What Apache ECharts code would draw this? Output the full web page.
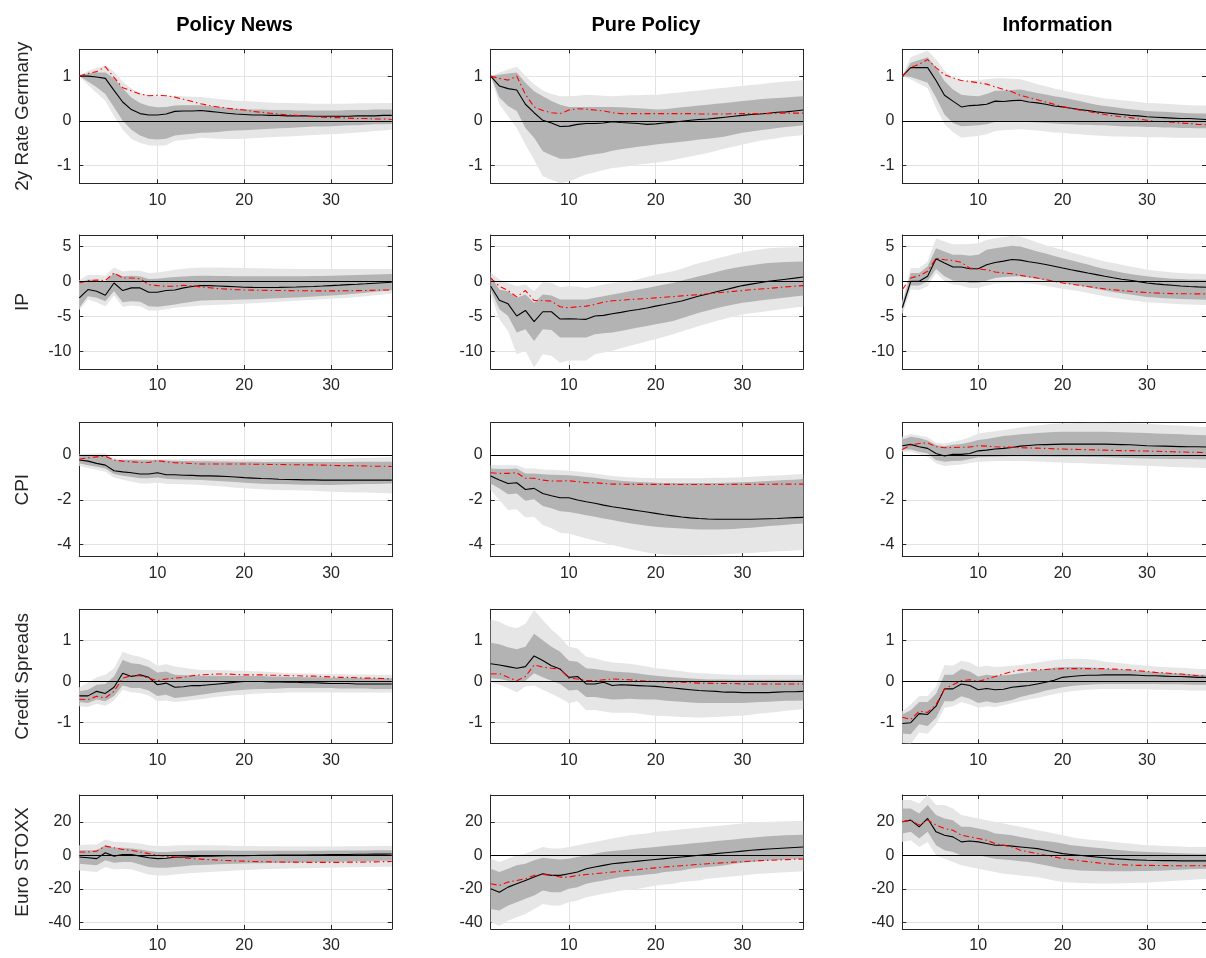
<!DOCTYPE html>
<html>
<head>
<meta charset="utf-8">
<title>Impulse responses</title>
<script src="https://cdn.jsdelivr.net/npm/echarts@6/dist/echarts.min.js"></script>
<style>
  html, body { margin: 0; padding: 0; background: #fff; }
  #chart { width: 1206px; height: 958px; }
</style>
</head>
<body>
<div id="chart"></div>
<script>
// horizons (months) and axis ticks
var horizons = [1,2,3,4,5,6,7,8,9,10, 11,12,13,14,15,16,17,18,19,20, 21,22,23,24,25,26,27,28,29,30, 31,32,33,34,35,36,37];
var xTickValues = [10, 20, 30];
var shockNames = ['Policy News', 'Pure Policy', 'Information'];
var variableNames = ['2y Rate Germany', 'IP', 'CPI', 'Credit Spreads', 'Euro STOXX'];
var yMin = [-1.4, -12.5, -4.55, -1.5, -44];
var yMax = [1.6, 6.6, 1.45, 1.75, 36];
var yTickValues = [[-1, 0, 1], [-10, -5, 0, 5], [-4, -2, 0], [-1, 0, 1], [-40, -20, 0, 20]];

// ---- 2y Rate Germany ----
var rate_news_med  = [1.00,1.00,0.98,0.95,0.68,0.42,0.25,0.16,0.13,0.13, 0.15,0.21,0.22,0.22,0.23,0.21,0.19,0.17,0.15,0.14, 0.13,0.13,0.12,0.12,0.11,0.11,0.11,0.10,0.10,0.10, 0.10,0.10,0.11,0.11,0.11,0.12,0.12];
var rate_news_red  = [1.00,1.06,1.10,1.21,0.97,0.74,0.67,0.60,0.56,0.57, 0.56,0.53,0.48,0.43,0.38,0.34,0.31,0.28,0.26,0.24, 0.21,0.19,0.17,0.15,0.13,0.12,0.10,0.09,0.08,0.07, 0.07,0.06,0.05,0.05,0.04,0.04,0.03];
var rate_news_hi90 = [1.00,1.12,1.18,1.23,1.10,0.88,0.72,0.62,0.57,0.55, 0.55,0.56,0.55,0.54,0.53,0.51,0.49,0.47,0.45,0.44, 0.43,0.42,0.41,0.40,0.40,0.39,0.39,0.38,0.38,0.38, 0.38,0.38,0.39,0.39,0.39,0.40,0.40];
var rate_news_hi68 = [1.00,1.06,1.08,1.08,0.95,0.72,0.52,0.40,0.33,0.30, 0.31,0.34,0.35,0.35,0.35,0.33,0.31,0.29,0.27,0.26, 0.25,0.25,0.24,0.24,0.24,0.23,0.23,0.23,0.23,0.23, 0.23,0.24,0.24,0.24,0.25,0.25,0.25];
var rate_news_lo68 = [1.00,0.88,0.75,0.60,0.30,0.00,-0.20,-0.33,-0.40,-0.42, -0.40,-0.33,-0.31,-0.29,-0.27,-0.26,-0.25,-0.23,-0.22,-0.21, -0.20,-0.19,-0.18,-0.17,-0.16,-0.15,-0.14,-0.13,-0.13,-0.12, -0.11,-0.10,-0.10,-0.09,-0.08,-0.08,-0.07];
var rate_news_lo90 = [1.00,0.80,0.62,0.45,0.10,-0.20,-0.40,-0.50,-0.55,-0.56, -0.55,-0.45,-0.43,-0.41,-0.38,-0.39,-0.40,-0.41,-0.41,-0.40, -0.39,-0.38,-0.37,-0.36,-0.35,-0.34,-0.33,-0.32,-0.31,-0.30, -0.29,-0.28,-0.26,-0.25,-0.23,-0.22,-0.20];

var rate_pure_med  = [1.00,0.78,0.72,0.69,0.37,0.18,0.01,-0.05,-0.13,-0.12, -0.08,-0.06,-0.06,-0.05,-0.02,-0.04,-0.05,-0.06,-0.08,-0.07, -0.05,-0.03,-0.01,0.01,0.03,0.04,0.06,0.08,0.10,0.12, 0.14,0.15,0.17,0.19,0.20,0.22,0.24];
var rate_pure_red  = [1.00,0.95,0.91,1.00,0.59,0.31,0.23,0.18,0.16,0.24, 0.27,0.26,0.24,0.22,0.18,0.16,0.16,0.16,0.16,0.16, 0.16,0.16,0.16,0.16,0.15,0.15,0.15,0.15,0.16,0.16, 0.16,0.16,0.16,0.17,0.17,0.17,0.17];
var rate_pure_hi90 = [1.00,1.08,1.15,1.21,1.00,0.82,0.68,0.60,0.55,0.55, 0.56,0.58,0.57,0.56,0.55,0.56,0.57,0.57,0.58,0.58, 0.60,0.62,0.64,0.66,0.68,0.70,0.72,0.74,0.76,0.78, 0.80,0.82,0.84,0.86,0.88,0.89,0.91];
var rate_pure_hi68 = [1.00,1.03,1.06,1.08,0.85,0.66,0.55,0.44,0.36,0.31, 0.31,0.31,0.31,0.31,0.31,0.30,0.29,0.28,0.27,0.25, 0.26,0.28,0.30,0.32,0.34,0.36,0.38,0.40,0.42,0.44, 0.46,0.48,0.50,0.51,0.52,0.54,0.55];
var rate_pure_lo68 = [1.00,0.52,0.33,0.22,-0.16,-0.38,-0.68,-0.77,-0.85,-0.85, -0.82,-0.78,-0.75,-0.72,-0.67,-0.64,-0.61,-0.58,-0.56,-0.53, -0.51,-0.49,-0.47,-0.45,-0.42,-0.40,-0.38,-0.35,-0.31,-0.27, -0.24,-0.21,-0.19,-0.16,-0.14,-0.12,-0.10];
var rate_pure_lo90 = [1.00,0.37,0.10,-0.16,-0.53,-0.87,-1.24,-1.32,-1.40,-1.36, -1.28,-1.20,-1.15,-1.10,-1.06,-1.04,-1.01,-0.98,-0.96,-0.94, -0.91,-0.88,-0.84,-0.80,-0.76,-0.72,-0.67,-0.62,-0.58,-0.53, -0.49,-0.45,-0.42,-0.39,-0.36,-0.34,-0.32];

var rate_info_med  = [1.00,1.19,1.19,1.19,0.90,0.57,0.44,0.31,0.34,0.35, 0.37,0.44,0.43,0.45,0.46,0.42,0.40,0.37,0.33,0.31, 0.28,0.25,0.23,0.20,0.18,0.16,0.14,0.12,0.11,0.09, 0.08,0.07,0.06,0.05,0.05,0.04,0.03];
var rate_info_red  = [1.00,1.19,1.27,1.37,1.19,1.03,0.96,0.90,0.88,0.85, 0.82,0.76,0.70,0.65,0.57,0.52,0.47,0.42,0.37,0.32, 0.28,0.24,0.21,0.17,0.14,0.11,0.09,0.07,0.04,0.01, -0.01,-0.02,-0.03,-0.05,-0.06,-0.08,-0.09];
var rate_info_hi90 = [1.00,1.42,1.50,1.57,1.38,1.12,0.97,0.89,0.90,0.91, 0.93,0.95,0.95,0.94,0.93,0.88,0.82,0.77,0.72,0.68, 0.64,0.60,0.57,0.53,0.50,0.48,0.46,0.44,0.42,0.40, 0.39,0.38,0.37,0.36,0.35,0.34,0.34];
var rate_info_hi68 = [1.00,1.30,1.36,1.42,1.19,0.89,0.70,0.58,0.56,0.55, 0.60,0.67,0.68,0.69,0.70,0.66,0.62,0.59,0.55,0.52, 0.48,0.44,0.40,0.36,0.33,0.31,0.28,0.26,0.24,0.22, 0.21,0.20,0.19,0.18,0.17,0.16,0.16];
var rate_info_lo68 = [1.00,0.98,0.92,0.85,0.52,0.14,-0.05,-0.12,-0.11,-0.10, -0.08,-0.03,-0.02,-0.02,-0.02,-0.03,-0.04,-0.05,-0.06,-0.07, -0.08,-0.09,-0.09,-0.10,-0.10,-0.11,-0.12,-0.13,-0.13,-0.14, -0.14,-0.15,-0.15,-0.16,-0.16,-0.17,-0.17];
var rate_info_lo90 = [1.00,0.93,0.83,0.73,0.29,-0.08,-0.25,-0.38,-0.36,-0.34, -0.30,-0.23,-0.21,-0.20,-0.19,-0.20,-0.22,-0.24,-0.26,-0.27, -0.29,-0.30,-0.32,-0.33,-0.34,-0.35,-0.35,-0.36,-0.36,-0.37, -0.37,-0.37,-0.38,-0.38,-0.38,-0.38,-0.38];

// ---- IP ----
var ip_news_med  = [-2.36,-1.18,-1.42,-1.98,-0.24,-1.32,-0.94,-0.94,-1.56,-1.56, -1.32,-1.23,-0.94,-0.75,-0.61,-0.61,-0.66,-0.72,-0.78,-0.85, -0.87,-0.88,-0.88,-0.87,-0.85,-0.82,-0.78,-0.74,-0.68,-0.61, -0.55,-0.48,-0.42,-0.35,-0.27,-0.20,-0.14];
var ip_news_red  = [-0.24,0.09,0.19,0.10,1.18,0.47,0.47,0.38,-0.47,-0.61, -0.70,-0.70,-0.57,-0.66,-0.80,-0.92,-1.04,-1.12,-1.18,-1.23, -1.26,-1.28,-1.30,-1.31,-1.32,-1.34,-1.35,-1.37,-1.37,-1.37, -1.36,-1.35,-1.33,-1.31,-1.28,-1.25,-1.23];
var ip_news_hi90 = [0.14,0.94,0.90,0.80,1.98,1.40,1.55,1.50,1.18,1.27, 1.45,1.65,1.80,1.90,1.98,1.98,1.96,1.94,1.92,1.89, 1.87,1.85,1.83,1.80,1.78,1.76,1.75,1.75,1.75,1.75, 1.75,1.75,1.75,1.75,1.75,1.75,1.75];
var ip_news_hi68 = [-0.24,0.24,0.15,-0.10,1.18,0.71,0.80,0.71,0.33,0.38, 0.50,0.61,0.70,0.76,0.80,0.79,0.77,0.75,0.73,0.71, 0.71,0.71,0.71,0.71,0.71,0.72,0.73,0.74,0.76,0.78, 0.82,0.86,0.90,0.94,0.98,1.01,1.04];
var ip_news_lo68 = [-3.77,-2.12,-2.36,-2.83,-1.42,-2.97,-2.83,-2.92,-3.54,-3.63, -3.50,-3.30,-3.10,-2.90,-2.74,-2.70,-2.68,-2.66,-2.63,-2.60, -2.56,-2.51,-2.46,-2.41,-2.36,-2.30,-2.24,-2.18,-2.11,-2.03, -1.95,-1.85,-1.75,-1.63,-1.50,-1.38,-1.27];
var ip_news_lo90 = [-4.10,-2.60,-3.00,-3.54,-2.03,-3.63,-3.45,-3.55,-4.15,-4.15, -4.00,-3.77,-3.65,-3.55,-3.44,-3.40,-3.35,-3.30,-3.25,-3.20, -3.13,-3.06,-2.98,-2.90,-2.83,-2.76,-2.69,-2.62,-2.56,-2.50, -2.42,-2.33,-2.23,-2.12,-2.00,-1.88,-1.75];

var ip_pure_med  = [-0.71,-2.69,-3.21,-4.95,-4.15,-5.75,-4.34,-4.34,-5.38,-5.33, -5.38,-5.42,-4.95,-4.86,-4.62,-4.43,-4.20,-4.01,-3.80,-3.54, -3.30,-3.05,-2.80,-2.45,-2.10,-1.80,-1.50,-1.20,-0.90,-0.61, -0.40,-0.20,0.00,0.15,0.30,0.45,0.61];
var ip_pure_red  = [0.47,-0.71,-1.32,-2.22,-1.32,-2.74,-2.74,-2.83,-3.63,-3.77, -3.63,-3.54,-3.30,-2.97,-2.78,-2.70,-2.60,-2.52,-2.45,-2.36, -2.27,-2.18,-2.08,-1.98,-1.89,-1.78,-1.66,-1.55,-1.43,-1.32, -1.20,-1.10,-1.02,-0.90,-0.80,-0.70,-0.61];
var ip_pure_hi90 = [1.27,0.24,-0.24,-0.70,-0.47,-1.42,-0.14,-0.24,-0.80,-0.70, -0.75,-0.94,-0.70,-0.47,-0.24,-0.10,0.00,0.30,0.60,0.94, 1.20,1.42,1.80,2.20,2.60,2.90,3.25,3.54,3.85,4.15, 4.35,4.55,4.70,4.78,4.82,4.85,4.86];
var ip_pure_hi68 = [0.70,-1.18,-1.42,-2.36,-1.89,-3.07,-1.89,-2.03,-2.60,-2.60, -2.60,-2.60,-2.36,-2.12,-1.89,-1.65,-1.42,-1.18,-0.94,-0.71, -0.47,-0.24,0.10,0.40,0.71,1.00,1.33,1.65,1.90,2.12, 2.30,2.45,2.60,2.68,2.75,2.80,2.83];
var ip_pure_lo68 = [-1.18,-4.00,-4.95,-7.30,-6.84,-8.50,-6.84,-6.95,-8.02,-8.02, -8.02,-8.02,-7.55,-7.42,-7.30,-7.07,-6.84,-6.60,-6.37,-6.13, -5.90,-5.66,-5.25,-4.86,-4.48,-4.15,-3.85,-3.54,-3.30,-3.07, -2.90,-2.74,-2.60,-2.45,-2.30,-2.15,-2.03];
var ip_pure_lo90 = [-1.89,-5.42,-7.07,-10.40,-9.90,-12.30,-10.40,-10.60,-11.60,-11.30, -11.30,-11.30,-10.40,-10.15,-9.90,-9.55,-9.20,-8.90,-8.55,-8.25, -7.90,-7.55,-7.15,-6.75,-6.37,-6.00,-5.65,-5.33,-5.00,-4.72, -4.55,-4.40,-4.25,-4.05,-3.90,-3.75,-3.63];

var ip_info_med  = [-3.77,0.00,0.00,0.71,3.20,2.60,2.03,2.03,1.80,1.80, 2.36,2.69,2.88,3.11,3.02,2.78,2.60,2.40,2.15,1.89, 1.65,1.42,1.18,0.95,0.71,0.50,0.30,0.14,-0.05,-0.24, -0.37,-0.48,-0.57,-0.66,-0.74,-0.80,-0.84];
var ip_info_red  = [-1.18,0.47,0.80,1.42,3.30,3.07,2.97,2.69,1.89,1.75, 1.65,1.32,1.18,1.08,0.85,0.66,0.47,0.23,0.00,-0.24, -0.40,-0.57,-0.75,-0.92,-1.08,-1.20,-1.32,-1.42,-1.52,-1.60, -1.66,-1.71,-1.75,-1.77,-1.78,-1.79,-1.80];
var ip_info_hi90 = [-2.83,1.90,1.90,2.83,6.13,5.66,5.28,5.28,5.33,5.42, 5.90,6.13,6.30,6.46,6.37,5.95,5.52,5.15,4.80,4.48, 4.12,3.77,3.45,3.14,2.83,2.60,2.35,2.12,1.88,1.65, 1.52,1.38,1.27,1.20,1.13,1.08,1.05];
var ip_info_hi68 = [-3.30,1.18,1.18,2.12,4.72,4.25,3.77,3.77,3.63,3.77, 4.48,4.72,4.90,5.05,4.95,4.60,4.25,3.95,3.62,3.30, 3.00,2.69,2.38,2.05,1.75,1.50,1.25,1.04,0.87,0.71, 0.58,0.47,0.38,0.32,0.27,0.24,0.22];
var ip_info_lo68 = [-4.25,-0.61,-0.61,0.00,1.75,0.71,0.10,0.00,-0.24,-0.24, 0.12,0.47,0.60,0.68,0.71,0.55,0.35,0.12,-0.06,-0.24, -0.42,-0.61,-0.85,-1.10,-1.32,-1.52,-1.70,-1.89,-2.05,-2.22, -2.32,-2.40,-2.45,-2.52,-2.57,-2.60,-2.62];
var ip_info_lo90 = [-4.72,-1.18,-1.25,-0.71,1.18,0.00,-0.47,-0.61,-0.94,-0.94, -0.60,-0.33,-0.28,-0.25,-0.24,-0.35,-0.47,-0.65,-0.85,-1.08, -1.25,-1.42,-1.65,-1.90,-2.12,-2.32,-2.52,-2.69,-2.85,-2.97, -3.05,-3.14,-3.20,-3.26,-3.31,-3.35,-3.38];

// ---- CPI ----
var cpi_news_med  = [-0.22,-0.27,-0.37,-0.45,-0.70,-0.75,-0.79,-0.85,-0.85,-0.79, -0.88,-0.88,-0.90,-0.91,-0.93,-0.93,-0.94,-0.96,-0.98,-1.01, -1.03,-1.05,-1.06,-1.08,-1.09,-1.10,-1.11,-1.11,-1.12,-1.12, -1.12,-1.12,-1.12,-1.12,-1.12,-1.12,-1.12];
var cpi_news_red  = [-0.19,-0.12,-0.08,-0.05,-0.22,-0.27,-0.30,-0.33,-0.33,-0.25, -0.30,-0.34,-0.36,-0.38,-0.40,-0.40,-0.40,-0.40,-0.40,-0.40, -0.41,-0.41,-0.42,-0.42,-0.43,-0.43,-0.44,-0.44,-0.45,-0.46, -0.47,-0.47,-0.48,-0.49,-0.50,-0.50,-0.51];
var cpi_news_hi90 = [0.04,0.06,0.07,0.07,-0.15,-0.16,-0.17,-0.18,-0.19,-0.19, -0.19,-0.19,-0.19,-0.19,-0.19,-0.19,-0.19,-0.19,-0.19,-0.19, -0.19,-0.19,-0.19,-0.18,-0.18,-0.18,-0.18,-0.17,-0.17,-0.17, -0.16,-0.15,-0.14,-0.13,-0.12,-0.11,-0.10];
var cpi_news_hi68 = [-0.05,-0.03,-0.02,0.00,-0.22,-0.22,-0.22,-0.23,-0.23,-0.22, -0.24,-0.25,-0.26,-0.27,-0.28,-0.28,-0.29,-0.29,-0.30,-0.30, -0.30,-0.31,-0.31,-0.31,-0.31,-0.31,-0.31,-0.31,-0.31,-0.31, -0.31,-0.31,-0.30,-0.30,-0.30,-0.30,-0.30];
var cpi_news_lo68 = [-0.37,-0.45,-0.52,-0.60,-0.85,-0.92,-0.98,-1.04,-1.04,-1.00, -1.06,-1.08,-1.09,-1.10,-1.12,-1.14,-1.16,-1.18,-1.21,-1.24, -1.26,-1.28,-1.29,-1.30,-1.31,-1.32,-1.33,-1.33,-1.34,-1.34, -1.33,-1.32,-1.31,-1.30,-1.29,-1.28,-1.27];
var cpi_news_lo90 = [-0.49,-0.58,-0.66,-0.75,-1.00,-1.10,-1.18,-1.27,-1.27,-1.24, -1.28,-1.30,-1.31,-1.32,-1.34,-1.36,-1.39,-1.42,-1.46,-1.49, -1.51,-1.53,-1.55,-1.56,-1.57,-1.58,-1.59,-1.60,-1.62,-1.64, -1.65,-1.66,-1.67,-1.68,-1.69,-1.70,-1.72];

var cpi_pure_med  = [-0.94,-1.12,-1.27,-1.24,-1.54,-1.49,-1.72,-1.82,-1.91,-1.91, -2.01,-2.09,-2.16,-2.24,-2.31,-2.37,-2.43,-2.49,-2.55,-2.61, -2.67,-2.72,-2.77,-2.81,-2.84,-2.86,-2.87,-2.87,-2.87,-2.87, -2.87,-2.86,-2.85,-2.84,-2.82,-2.80,-2.79];
var cpi_pure_red  = [-0.79,-0.82,-0.82,-0.79,-1.04,-1.04,-1.12,-1.16,-1.16,-1.15, -1.19,-1.24,-1.24,-1.27,-1.30,-1.30,-1.31,-1.31,-1.31,-1.31, -1.31,-1.31,-1.32,-1.32,-1.32,-1.32,-1.32,-1.32,-1.31,-1.31, -1.31,-1.31,-1.31,-1.30,-1.30,-1.30,-1.30];
var cpi_pure_hi90 = [-0.45,-0.45,-0.45,-0.45,-0.60,-0.60,-0.64,-0.66,-0.68,-0.70, -0.74,-0.78,-0.82,-0.88,-0.94,-0.97,-0.99,-1.01,-1.03,-1.04, -1.04,-1.04,-1.04,-1.04,-1.04,-1.03,-1.02,-1.01,-1.00,-0.99, -0.97,-0.95,-0.93,-0.91,-0.89,-0.87,-0.85];
var cpi_pure_hi68 = [-0.60,-0.62,-0.62,-0.60,-0.82,-0.82,-0.86,-0.88,-0.89,-0.90, -0.94,-0.98,-1.02,-1.07,-1.12,-1.15,-1.18,-1.20,-1.22,-1.24, -1.25,-1.25,-1.25,-1.25,-1.25,-1.25,-1.25,-1.24,-1.23,-1.22, -1.20,-1.18,-1.16,-1.14,-1.12,-1.10,-1.07];
var cpi_pure_lo68 = [-1.27,-1.50,-1.75,-1.72,-2.04,-1.98,-2.28,-2.38,-2.51,-2.55, -2.62,-2.69,-2.76,-2.84,-2.91,-2.98,-3.05,-3.11,-3.16,-3.21, -3.24,-3.27,-3.29,-3.31,-3.33,-3.33,-3.33,-3.32,-3.31,-3.28, -3.25,-3.22,-3.18,-3.15,-3.12,-3.09,-3.06];
var cpi_pure_lo90 = [-1.57,-2.01,-2.46,-2.43,-2.79,-2.76,-3.13,-3.28,-3.48,-3.51, -3.62,-3.73,-3.82,-3.93,-4.03,-4.12,-4.20,-4.28,-4.36,-4.43, -4.45,-4.46,-4.47,-4.48,-4.48,-4.47,-4.46,-4.44,-4.42,-4.40, -4.38,-4.35,-4.33,-4.31,-4.29,-4.27,-4.25];

var cpi_info_med  = [0.42,0.48,0.37,0.30,0.07,-0.04,0.03,0.03,0.07,0.19, 0.22,0.27,0.30,0.34,0.40,0.43,0.46,0.47,0.48,0.49, 0.49,0.49,0.49,0.49,0.49,0.48,0.47,0.46,0.44,0.42, 0.41,0.40,0.39,0.38,0.37,0.37,0.36];
var cpi_info_red  = [0.25,0.45,0.52,0.55,0.37,0.33,0.34,0.35,0.36,0.42, 0.40,0.37,0.36,0.35,0.33,0.32,0.31,0.30,0.28,0.27, 0.26,0.25,0.24,0.23,0.22,0.21,0.20,0.20,0.19,0.18, 0.17,0.16,0.15,0.14,0.13,0.12,0.11];
var cpi_info_hi90 = [0.82,0.94,0.88,0.80,0.55,0.52,0.60,0.67,0.80,0.97, 1.02,1.07,1.12,1.18,1.24,1.29,1.33,1.37,1.40,1.42, 1.43,1.44,1.45,1.45,1.45,1.44,1.43,1.42,1.41,1.40, 1.38,1.36,1.34,1.32,1.30,1.27,1.26];
var cpi_info_hi68 = [0.70,0.82,0.76,0.65,0.45,0.40,0.46,0.50,0.58,0.67, 0.72,0.79,0.85,0.89,0.93,0.96,0.99,1.01,1.03,1.04, 1.04,1.04,1.04,1.04,1.04,1.03,1.02,1.01,1.00,0.99, 0.97,0.96,0.94,0.93,0.91,0.90,0.89];
var cpi_info_lo68 = [0.25,0.25,0.15,0.07,-0.22,-0.30,-0.27,-0.25,-0.18,-0.10, -0.09,-0.07,-0.06,-0.05,-0.05,-0.05,-0.06,-0.06,-0.07,-0.07, -0.08,-0.08,-0.09,-0.09,-0.10,-0.11,-0.12,-0.13,-0.14,-0.15, -0.16,-0.16,-0.17,-0.18,-0.18,-0.19,-0.19];
var cpi_info_lo90 = [0.15,0.15,0.04,-0.07,-0.37,-0.49,-0.45,-0.42,-0.36,-0.30, -0.29,-0.27,-0.27,-0.27,-0.27,-0.28,-0.29,-0.30,-0.32,-0.33, -0.35,-0.36,-0.38,-0.39,-0.40,-0.42,-0.43,-0.45,-0.47,-0.48, -0.50,-0.51,-0.53,-0.54,-0.56,-0.57,-0.58];

// ---- Credit Spreads ----
var cs_news_med  = [-0.35,-0.35,-0.24,-0.29,-0.14,0.20,0.12,0.16,0.10,-0.08, -0.04,-0.14,-0.13,-0.10,-0.10,-0.08,-0.06,-0.04,-0.02,0.00, 0.00,0.00,-0.01,-0.01,-0.02,-0.02,-0.03,-0.03,-0.04,-0.05, -0.05,-0.05,-0.06,-0.06,-0.06,-0.06,-0.06];
var cs_news_red  = [-0.43,-0.44,-0.36,-0.40,-0.24,0.08,0.14,0.14,0.08,0.02, 0.06,0.08,0.10,0.14,0.16,0.17,0.18,0.18,0.17,0.16, 0.16,0.16,0.15,0.15,0.14,0.14,0.13,0.13,0.12,0.11, 0.10,0.10,0.09,0.08,0.08,0.07,0.06];
var cs_news_hi90 = [-0.14,-0.03,0.10,0.16,0.32,0.72,0.64,0.60,0.52,0.38, 0.42,0.36,0.33,0.30,0.28,0.28,0.27,0.27,0.26,0.26, 0.25,0.24,0.23,0.22,0.20,0.20,0.19,0.19,0.18,0.18, 0.18,0.17,0.17,0.17,0.16,0.16,0.16];
var cs_news_hi68 = [-0.24,-0.20,-0.08,-0.06,0.12,0.52,0.44,0.42,0.35,0.22, 0.24,0.16,0.15,0.15,0.14,0.14,0.14,0.14,0.14,0.14, 0.13,0.13,0.12,0.12,0.11,0.11,0.10,0.10,0.10,0.09, 0.09,0.09,0.09,0.08,0.08,0.08,0.08];
var cs_news_lo68 = [-0.50,-0.52,-0.44,-0.48,-0.35,-0.10,-0.16,-0.16,-0.22,-0.35, -0.32,-0.40,-0.38,-0.35,-0.32,-0.29,-0.26,-0.24,-0.22,-0.20, -0.19,-0.18,-0.18,-0.17,-0.16,-0.16,-0.16,-0.16,-0.16,-0.16, -0.17,-0.17,-0.17,-0.17,-0.18,-0.18,-0.18];
var cs_news_lo90 = [-0.60,-0.62,-0.54,-0.59,-0.46,-0.20,-0.26,-0.28,-0.34,-0.48, -0.46,-0.50,-0.48,-0.45,-0.43,-0.40,-0.37,-0.35,-0.33,-0.32, -0.30,-0.29,-0.28,-0.28,-0.27,-0.27,-0.27,-0.27,-0.27,-0.27, -0.27,-0.27,-0.27,-0.27,-0.27,-0.27,-0.27];

var cs_pure_med  = [0.43,0.40,0.36,0.32,0.36,0.62,0.51,0.38,0.30,0.10, 0.12,-0.06,-0.06,-0.02,-0.10,-0.08,-0.09,-0.10,-0.11,-0.12, -0.14,-0.16,-0.18,-0.20,-0.22,-0.23,-0.24,-0.26,-0.26,-0.27, -0.27,-0.27,-0.27,-0.26,-0.25,-0.25,-0.24];
var cs_pure_red  = [0.18,0.19,0.10,0.02,0.12,0.40,0.35,0.32,0.30,0.08, 0.06,0.02,0.02,0.04,0.06,0.05,0.04,0.02,0.01,0.00, -0.01,-0.02,-0.02,-0.03,-0.04,-0.04,-0.05,-0.05,-0.05,-0.06, -0.06,-0.06,-0.06,-0.06,-0.06,-0.06,-0.06];
var cs_pure_hi90 = [1.50,1.45,1.34,1.29,1.40,1.73,1.49,1.26,1.08,0.84, 0.80,0.60,0.56,0.50,0.46,0.45,0.43,0.40,0.36,0.32, 0.30,0.27,0.25,0.22,0.20,0.19,0.18,0.17,0.16,0.16, 0.16,0.16,0.16,0.16,0.16,0.16,0.16];
var cs_pure_hi68 = [0.94,0.90,0.83,0.78,0.84,1.16,1.00,0.84,0.72,0.50, 0.48,0.32,0.30,0.27,0.24,0.23,0.22,0.19,0.16,0.14, 0.12,0.10,0.09,0.07,0.06,0.05,0.05,0.05,0.04,0.04, 0.04,0.04,0.04,0.04,0.04,0.04,0.04];
var cs_pure_lo68 = [0.08,0.06,0.02,-0.02,0.02,0.20,0.10,0.02,-0.06,-0.22, -0.20,-0.38,-0.38,-0.41,-0.44,-0.43,-0.42,-0.43,-0.44,-0.44, -0.46,-0.48,-0.49,-0.51,-0.52,-0.52,-0.52,-0.52,-0.52,-0.52, -0.51,-0.50,-0.49,-0.48,-0.47,-0.47,-0.46];
var cs_pure_lo90 = [-0.04,-0.08,-0.16,-0.27,-0.12,-0.10,-0.20,-0.30,-0.40,-0.52, -0.48,-0.70,-0.69,-0.73,-0.76,-0.76,-0.76,-0.78,-0.81,-0.83, -0.84,-0.85,-0.86,-0.87,-0.88,-0.87,-0.86,-0.85,-0.84,-0.83, -0.81,-0.78,-0.76,-0.74,-0.71,-0.69,-0.67];

var cs_info_med  = [-1.02,-1.00,-0.78,-0.80,-0.60,-0.18,-0.18,-0.06,-0.10,-0.20, -0.17,-0.20,-0.19,-0.14,-0.12,-0.10,-0.06,-0.02,0.03,0.10, 0.12,0.14,0.15,0.15,0.16,0.16,0.16,0.16,0.15,0.14, 0.14,0.13,0.12,0.12,0.11,0.10,0.10];
var cs_info_red  = [-0.87,-0.92,-0.72,-0.75,-0.56,-0.18,-0.08,0.02,0.04,0.00, 0.06,0.12,0.18,0.24,0.28,0.28,0.28,0.29,0.30,0.31, 0.31,0.31,0.31,0.31,0.31,0.30,0.29,0.28,0.26,0.24, 0.22,0.21,0.19,0.18,0.16,0.14,0.13];
var cs_info_hi90 = [-0.72,-0.56,-0.35,-0.35,-0.12,0.40,0.38,0.50,0.46,0.35, 0.38,0.35,0.36,0.38,0.40,0.43,0.46,0.49,0.52,0.54, 0.55,0.55,0.54,0.52,0.48,0.46,0.44,0.42,0.40,0.38, 0.36,0.35,0.34,0.33,0.32,0.30,0.30];
var cs_info_hi68 = [-0.80,-0.70,-0.50,-0.50,-0.30,0.16,0.16,0.30,0.24,0.12, 0.16,0.14,0.15,0.17,0.20,0.23,0.27,0.30,0.33,0.35, 0.35,0.35,0.34,0.33,0.31,0.30,0.29,0.28,0.26,0.24, 0.23,0.21,0.20,0.19,0.18,0.16,0.16];
var cs_info_lo68 = [-1.26,-1.28,-1.04,-1.08,-0.88,-0.48,-0.48,-0.36,-0.42,-0.52, -0.48,-0.52,-0.49,-0.45,-0.38,-0.33,-0.28,-0.22,-0.18,-0.14, -0.11,-0.09,-0.08,-0.07,-0.06,-0.06,-0.06,-0.06,-0.06,-0.06, -0.06,-0.07,-0.07,-0.07,-0.08,-0.08,-0.08];
var cs_info_lo90 = [-1.50,-1.52,-1.24,-1.27,-1.04,-0.64,-0.60,-0.50,-0.56,-0.64, -0.60,-0.62,-0.58,-0.53,-0.48,-0.44,-0.40,-0.35,-0.31,-0.27, -0.24,-0.22,-0.20,-0.19,-0.18,-0.18,-0.18,-0.19,-0.19,-0.19, -0.20,-0.20,-0.21,-0.21,-0.22,-0.22,-0.22];

// ---- Euro STOXX ----
var stoxx_news_med  = [-1.0,-1.5,-2.0,1.5,-0.5,0.5,0.5,-0.5,-1.5,-2.0, -1.8,-1.2,-1.0,-0.8,-0.6,-0.5,-0.4,-0.3,-0.2,-0.2, -0.1,0.0,0.0,0.1,0.1,0.2,0.2,0.3,0.3,0.4, 0.5,0.5,0.6,0.6,0.7,0.7,0.8];
var stoxx_news_red  = [2.0,2.0,2.5,5.5,4.5,3.5,3.0,2.0,1.0,0.0, -0.5,-1.0,-1.5,-2.0,-2.3,-2.6,-2.9,-3.1,-3.3,-3.5, -3.7,-3.8,-3.9,-4.0,-4.1,-4.1,-4.2,-4.2,-4.2,-4.2, -4.2,-4.1,-4.1,-4.0,-3.9,-3.8,-3.7];
var stoxx_news_hi90 = [6.0,6.5,6.5,9.5,8.0,8.0,7.5,7.0,6.0,5.5, 5.5,5.8,6.0,6.0,6.0,6.0,5.8,5.8,5.6,5.5, 5.5,5.4,5.4,5.4,5.3,5.3,5.3,5.3,5.3,5.3, 5.3,5.4,5.4,5.4,5.5,5.5,5.5];
var stoxx_news_hi68 = [3.0,3.0,3.0,6.0,4.5,4.5,4.0,3.5,2.5,2.0, 2.0,2.3,2.5,2.7,2.8,2.8,2.8,2.8,2.7,2.7, 2.7,2.7,2.7,2.7,2.7,2.7,2.7,2.7,2.7,2.8, 2.8,2.8,2.9,2.9,3.0,3.0,3.0];
var stoxx_news_lo68 = [-5.0,-5.5,-6.0,-3.0,-4.5,-4.0,-4.0,-5.5,-7.0,-7.5, -7.5,-7.0,-6.5,-6.0,-5.8,-5.6,-5.4,-5.2,-5.0,-4.9, -4.8,-4.7,-4.6,-4.5,-4.4,-4.3,-4.2,-4.1,-4.0,-3.9, -3.8,-3.7,-3.6,-3.5,-3.4,-3.3,-3.2];
var stoxx_news_lo90 = [-9.0,-9.5,-10.0,-7.0,-8.5,-8.0,-8.5,-10.0,-11.5,-12.0, -12.0,-11.5,-11.0,-10.5,-10.2,-9.9,-9.6,-9.3,-9.0,-8.8, -8.6,-8.4,-8.2,-8.0,-7.9,-7.8,-7.7,-7.6,-7.5,-7.4, -7.3,-7.2,-7.1,-7.0,-7.0,-6.9,-6.8];

var stoxx_pure_med  = [-20.0,-22.0,-19.0,-17.0,-15.0,-13.0,-11.0,-12.0,-12.0,-11.0, -10.0,-8.0,-7.0,-6.0,-5.0,-4.5,-4.0,-3.5,-3.0,-2.5, -2.0,-1.5,-1.0,-0.5,0.0,0.5,1.0,1.5,2.0,2.5, 3.0,3.4,3.8,4.1,4.4,4.7,5.0];
var stoxx_pure_red  = [-17.0,-18.0,-16.0,-15.0,-14.0,-12.0,-11.5,-12.0,-13.0,-13.0, -12.0,-11.5,-11.0,-10.5,-10.0,-9.5,-9.0,-8.5,-8.0,-7.5, -7.0,-6.6,-6.2,-5.8,-5.4,-5.0,-4.7,-4.4,-4.1,-3.8, -3.5,-3.2,-3.0,-2.8,-2.6,-2.4,-2.2];
var stoxx_pure_hi90 = [-2.0,-4.0,-2.0,0.0,1.0,3.0,5.0,4.0,4.0,5.0, 6.0,7.0,8.0,9.0,10.0,11.0,12.0,12.5,13.0,14.0, 14.5,15.0,15.5,16.0,16.5,17.0,17.5,18.0,18.5,19.0, 19.5,19.8,20.0,20.2,20.4,20.5,20.6];
var stoxx_pure_hi68 = [-8.0,-10.0,-8.0,-6.0,-5.0,-3.0,-1.5,-2.0,-2.5,-2.0, -1.0,0.0,1.0,2.0,2.5,3.0,3.5,4.0,4.5,5.0, 5.5,6.0,6.5,7.0,7.5,8.0,8.5,9.0,9.5,10.0, 10.5,11.0,11.3,11.6,11.9,12.1,12.3];
var stoxx_pure_lo68 = [-32.0,-33.0,-30.0,-28.0,-26.0,-24.0,-21.0,-22.0,-22.0,-20.0, -19.0,-17.0,-16.0,-15.0,-14.0,-13.0,-12.5,-12.0,-11.5,-11.0, -10.0,-9.5,-9.0,-8.0,-7.5,-7.0,-6.5,-6.0,-5.0,-4.5, -4.0,-3.5,-3.0,-2.8,-2.5,-2.2,-2.0];
var stoxx_pure_lo90 = [-40.0,-42.0,-39.0,-37.0,-35.0,-32.0,-29.0,-30.0,-30.0,-28.0, -27.0,-25.0,-24.0,-23.0,-22.0,-21.0,-20.5,-20.0,-19.0,-18.0, -17.5,-17.0,-16.0,-15.5,-15.0,-14.0,-13.5,-13.0,-12.5,-12.0, -11.5,-11.0,-10.7,-10.4,-10.1,-9.8,-9.5];

var stoxx_info_med  = [20.0,21.0,17.0,22.0,14.0,12.0,11.0,8.0,8.5,8.0, 7.0,6.0,6.0,5.5,5.0,4.5,4.0,3.0,2.0,1.0, 0.5,0.0,-0.5,-1.0,-1.5,-2.0,-2.3,-2.6,-2.8,-3.0, -3.1,-3.2,-3.2,-3.3,-3.3,-3.3,-3.3];
var stoxx_info_red  = [20.0,21.0,18.0,21.0,18.0,16.0,15.0,12.0,11.0,10.0, 9.0,7.0,6.0,5.0,3.0,2.0,1.0,0.0,-1.0,-2.0, -2.6,-3.2,-3.8,-4.4,-5.0,-5.3,-5.6,-5.8,-6.0,-6.0, -6.1,-6.1,-6.2,-6.2,-6.2,-6.2,-6.2];
var stoxx_info_hi90 = [33.0,33.0,31.0,36.0,30.0,30.0,28.0,24.0,23.0,22.0, 21.0,20.0,19.0,18.0,17.0,16.0,15.0,14.0,13.0,12.0, 11.0,10.0,9.5,9.0,8.5,8.0,7.5,7.0,6.5,6.0, 5.8,5.6,5.4,5.2,5.0,5.0,5.0];
var stoxx_info_hi68 = [28.0,28.0,25.0,30.0,24.0,22.0,21.0,17.0,17.0,16.0, 15.0,13.0,12.5,12.0,11.0,10.0,9.0,8.5,8.0,7.0, 6.0,5.5,5.0,4.5,4.0,3.5,3.0,2.5,2.2,2.0, 1.8,1.6,1.4,1.2,1.1,1.0,1.0];
var stoxx_info_lo68 = [13.0,14.0,10.0,14.0,6.0,3.0,2.0,0.0,0.0,0.0, -1.0,-2.0,-2.5,-3.0,-3.5,-4.0,-5.0,-6.0,-7.0,-8.0, -8.5,-9.0,-9.2,-9.4,-9.5,-9.5,-9.5,-9.5,-9.4,-9.3, -9.2,-9.0,-8.8,-8.6,-8.4,-8.2,-8.0];
var stoxx_info_lo90 = [8.0,9.0,5.0,8.0,0.0,-2.0,-4.0,-6.0,-7.0,-8.0, -9.0,-10.0,-11.0,-11.5,-12.0,-12.5,-13.0,-14.0,-15.0,-16.0, -16.3,-16.5,-16.7,-16.8,-16.8,-16.8,-16.7,-16.6,-16.4,-16.2, -16.0,-15.7,-15.4,-15.1,-14.8,-14.4,-14.0];

function bundle(med, red, lo90, hi90, lo68, hi68) {
    return { med: med, red: red, lo90: lo90, hi90: hi90, lo68: lo68, hi68: hi68 };
}

// rows = variables, columns = shocks
var panels = [
    [bundle(rate_news_med, rate_news_red, rate_news_lo90, rate_news_hi90, rate_news_lo68, rate_news_hi68),
     bundle(rate_pure_med, rate_pure_red, rate_pure_lo90, rate_pure_hi90, rate_pure_lo68, rate_pure_hi68),
     bundle(rate_info_med, rate_info_red, rate_info_lo90, rate_info_hi90, rate_info_lo68, rate_info_hi68)],
    [bundle(ip_news_med, ip_news_red, ip_news_lo90, ip_news_hi90, ip_news_lo68, ip_news_hi68),
     bundle(ip_pure_med, ip_pure_red, ip_pure_lo90, ip_pure_hi90, ip_pure_lo68, ip_pure_hi68),
     bundle(ip_info_med, ip_info_red, ip_info_lo90, ip_info_hi90, ip_info_lo68, ip_info_hi68)],
    [bundle(cpi_news_med, cpi_news_red, cpi_news_lo90, cpi_news_hi90, cpi_news_lo68, cpi_news_hi68),
     bundle(cpi_pure_med, cpi_pure_red, cpi_pure_lo90, cpi_pure_hi90, cpi_pure_lo68, cpi_pure_hi68),
     bundle(cpi_info_med, cpi_info_red, cpi_info_lo90, cpi_info_hi90, cpi_info_lo68, cpi_info_hi68)],
    [bundle(cs_news_med, cs_news_red, cs_news_lo90, cs_news_hi90, cs_news_lo68, cs_news_hi68),
     bundle(cs_pure_med, cs_pure_red, cs_pure_lo90, cs_pure_hi90, cs_pure_lo68, cs_pure_hi68),
     bundle(cs_info_med, cs_info_red, cs_info_lo90, cs_info_hi90, cs_info_lo68, cs_info_hi68)],
    [bundle(stoxx_news_med, stoxx_news_red, stoxx_news_lo90, stoxx_news_hi90, stoxx_news_lo68, stoxx_news_hi68),
     bundle(stoxx_pure_med, stoxx_pure_red, stoxx_pure_lo90, stoxx_pure_hi90, stoxx_pure_lo68, stoxx_pure_hi68),
     bundle(stoxx_info_med, stoxx_info_red, stoxx_info_lo90, stoxx_info_hi90, stoxx_info_lo68, stoxx_info_hi68)]
];

// layout (pixels)
var colLeft = [79.3, 490.7, 902.3];
var rowTop = [49.3, 235, 422.7, 609.3, 795];
var panelW = 312.5, panelH = 134;

var FONT = '"Liberation Sans", Arial, Helvetica, sans-serif';
var AXIS = '#262626';
var GRIDLINE = '#e3e3e3';
var LIGHT = '#e6e6e6';
var DARK = '#b3b3b3';

function isXTick(index, value) {
    return xTickValues.indexOf(Number(value)) >= 0;
}

function bandSeries(k, lo, hi, color, tag) {
    var width = hi.map(function (v, i) { return v - lo[i]; });
    var common = {
        type: 'line', xAxisIndex: 2 * k, yAxisIndex: 2 * k,
        stack: tag + k, stackStrategy: 'all',
        symbol: 'none', silent: true,
        lineStyle: { width: 0, opacity: 0 }
    };
    return [
        Object.assign({}, common, { data: lo }),
        Object.assign({}, common, { data: width, areaStyle: { color: color, opacity: 1 } })
    ];
}

var option = {
    animation: false,
    backgroundColor: '#fff',
    textStyle: { fontFamily: FONT },
    title: [],
    grid: [],
    xAxis: [],
    yAxis: [],
    series: []
};

shockNames.forEach(function (name, c) {
    option.title.push({
        text: name,
        left: colLeft[c] + panelW / 2 - 1,
        top: 15,
        padding: 0,
        textAlign: 'center',
        textStyle: { fontSize: 20, fontWeight: 'bold', color: '#000', fontFamily: FONT }
    });
});

for (var r = 0; r < 5; r++) {
    for (var c = 0; c < 3; c++) {
        var k = r * 3 + c;
        var p = panels[r][c];

        option.grid.push({ left: colLeft[c], top: rowTop[r], width: panelW, height: panelH });

        // bottom x axis (labels + grid lines)
        option.xAxis.push({
            gridIndex: k, type: 'category', data: horizons, boundaryGap: false,
            axisLine: { onZero: false, lineStyle: { color: AXIS, width: 1 } },
            axisTick: { inside: true, length: 4, interval: isXTick, lineStyle: { color: AXIS } },
            axisLabel: { interval: isXTick, color: AXIS, fontSize: 16, margin: 9, fontFamily: FONT },
            splitLine: { show: true, interval: isXTick, lineStyle: { color: GRIDLINE, width: 1 } }
        });
        // top x axis (box + ticks)
        option.xAxis.push({
            gridIndex: k, type: 'category', data: horizons, boundaryGap: false, position: 'top',
            axisLine: { onZero: false, lineStyle: { color: AXIS, width: 1 } },
            axisTick: { inside: true, length: 4, interval: isXTick, lineStyle: { color: AXIS } },
            axisLabel: { show: false },
            splitLine: { show: false }
        });

        var leftY = {
            gridIndex: k, type: 'value', position: 'left', min: yMin[r], max: yMax[r],
            axisLine: { show: true, lineStyle: { color: AXIS, width: 1 } },
            axisTick: { show: true, inside: true, length: 4, customValues: yTickValues[r], lineStyle: { color: AXIS } },
            axisLabel: { customValues: yTickValues[r], color: AXIS, fontSize: 16, margin: 8, fontFamily: FONT },
            splitLine: { show: true, lineStyle: { color: GRIDLINE, width: 1 } }
        };
        if (c === 0) {
            leftY.name = variableNames[r];
            leftY.nameLocation = 'middle';
            leftY.nameGap = 47;
            leftY.nameTextStyle = { fontSize: 19, color: AXIS, fontFamily: FONT };
        }
        option.yAxis.push(leftY);
        // right y axis (box + ticks)
        option.yAxis.push({
            gridIndex: k, type: 'value', position: 'right', min: yMin[r], max: yMax[r],
            axisLine: { show: true, lineStyle: { color: AXIS, width: 1 } },
            axisTick: { show: true, inside: true, length: 4, customValues: yTickValues[r], lineStyle: { color: AXIS } },
            axisLabel: { show: false },
            splitLine: { show: false }
        });

        bandSeries(k, p.lo90, p.hi90, LIGHT, 'outer').forEach(function (s) { option.series.push(s); });
        bandSeries(k, p.lo68, p.hi68, DARK, 'inner').forEach(function (s) { option.series.push(s); });

        option.series.push({
            type: 'line', xAxisIndex: 2 * k, yAxisIndex: 2 * k,
            data: p.med, symbol: 'none', silent: true,
            lineStyle: { color: '#000', width: 1.1 },
            markLine: {
                silent: true, symbol: ['none', 'none'], label: { show: false },
                lineStyle: { color: '#000', width: 1, type: 'solid' },
                data: [{ yAxis: 0 }]
            }
        });
        option.series.push({
            type: 'line', xAxisIndex: 2 * k, yAxisIndex: 2 * k,
            data: p.red, symbol: 'none', silent: true,
            lineStyle: { color: '#ff0000', width: 1.1, type: [6, 3, 1.5, 3] }
        });
    }
}

var chart = echarts.init(document.getElementById('chart'), null, { renderer: 'canvas' });
chart.setOption(option);
</script>
</body>
</html>
